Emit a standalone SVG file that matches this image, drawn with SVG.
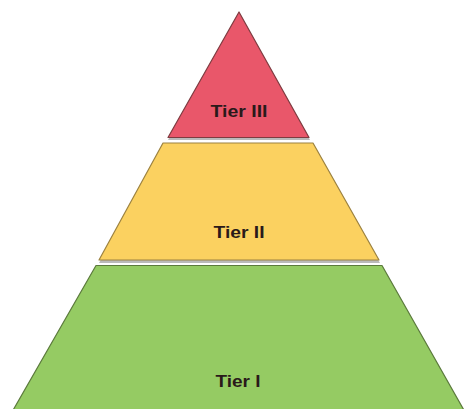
<svg xmlns="http://www.w3.org/2000/svg" width="466" height="409" viewBox="0 0 466 409">
<style>
.shadow{fill:#a9a9a9;opacity:0.8}
.tier{stroke-width:1.2;stroke-linejoin:round}
.lbl{font-family:"Liberation Sans",Arial,sans-serif;font-weight:bold;font-size:16px;fill:#2a1a1a;text-anchor:middle}
</style>
<rect width="466" height="409" fill="#ffffff"/>
<g id="tier3">
<polygon class="shadow" points="239,14 168,140 310,140"/>
<polygon class="tier" points="239,12 168,137.5 309,137.5" fill="#e9576a" stroke="#7e3b40"/>
<text class="lbl" x="239" y="117" textLength="57" lengthAdjust="spacingAndGlyphs">Tier III</text>
</g>
<g id="tier2">
<polygon class="shadow" points="163,146 313,146 380,263 99,263"/>
<polygon class="tier" points="163,143 313,143 379,260 99,260" fill="#fbd160" stroke="#9c8240"/>
<text class="lbl" x="239" y="238" textLength="51" lengthAdjust="spacingAndGlyphs">Tier II</text>
</g>
<g id="tier1">
<polygon class="tier" points="96,265.5 382,265.5 465,412 12,412" fill="#95cb63" stroke="#5b7a3c"/>
<text class="lbl" x="238" y="387" textLength="45" lengthAdjust="spacingAndGlyphs">Tier I</text>
</g>
<g id="connectors"/>
</svg>
